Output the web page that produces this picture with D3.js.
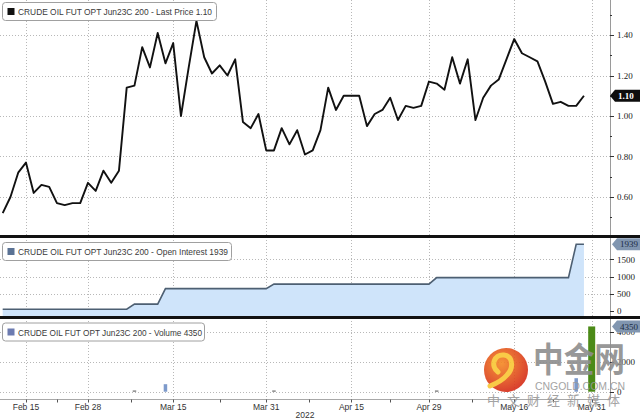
<!DOCTYPE html>
<html>
<head>
<meta charset="utf-8">
<script src="https://cdn.jsdelivr.net/npm/d3@7"></script>
<style>
  body { margin: 0; background: #fff; }
  svg { display: block; }
  text { font-family: "Liberation Sans", Arial, sans-serif; }
</style>
</head>
<body>
<div id="chart"></div>
<script>
// CRUDE OIL FUT OPT Jun23C 200 : last price, open interest, volume

// last price, one value per trading day (index 0 = Feb 10)
var lastPrice = [0.52, 0.60, 0.72, 0.77, 0.62, 0.66, 0.65, 0.57, 0.56, 0.57,
                 0.57, 0.67, 0.63, 0.73, 0.67, 0.73, 1.14, 1.15, 1.34, 1.24,
                 1.41, 1.26, 1.36, 1.00, 1.24, 1.47, 1.29, 1.21, 1.25, 1.20,
                 1.28, 0.97, 0.94, 1.01, 0.83, 0.83, 0.94, 0.86, 0.93, 0.81,
                 0.83, 0.93, 1.14, 1.03, 1.10, 1.10, 1.10, 0.95, 1.01, 1.03,
                 1.09, 0.98, 1.05, 1.04, 1.05, 1.17, 1.16, 1.13, 1.29, 1.16,
                 1.28, 0.98, 1.09, 1.15, 1.18, 1.28, 1.38, 1.31, 1.29, 1.27,
                 1.17, 1.06, 1.07, 1.05, 1.05, 1.10];

// open interest, read at the corners of the step line
var oiIndex = [0, 16, 17, 20, 21, 34, 35, 55, 56, 73, 74, 75];
var oiValue = [50, 50, 200, 200, 650, 650, 780, 780, 970, 970, 1939, 1939];

// volume, only the days that traded
var volIndex = [17, 21, 35, 56, 74, 76];
var volValue = [80, 500, 80, 80, 900, 4350];

var dateTickIndex = [3, 11, 22, 34, 45, 55, 66, 76];
var dateTickLabels = ["Feb 15", "Feb 28", "Mar 15", "Mar 31", "Apr 15", "Apr 29", "May 16", "May 31"];
var yearLabel = "2022";

var priceTicks = [0.6, 0.8, 1.0, 1.2, 1.4];
var priceMinor = [0.5, 0.7, 0.9, 1.1, 1.3, 1.5];
var oiTicks = [0, 500, 1000, 1500];
var volTicks = [0, 2000, 4000];

var seriesName = "CRUDE OIL FUT OPT Jun23C 200";

const width = 640;
const height = 420;
const axisX = 610;
const bottomY = 399.5;

var svg = d3.select("#chart")
            .append("svg")
            .attr("width", width)
            .attr("height", height);

var x = d3.scaleLinear().domain([0, 76]).range([2.7, 591.7]);
var yPrice = d3.scaleLinear().domain([0.6, 1.4]).range([197, 35]);
var yOI = d3.scaleLinear().domain([0, 1939]).range([311, 244.3]);
var yVol = d3.scaleLinear().domain([0, 4000]).range([391.7, 331.7]);

var grid = svg.append("g")
              .attr("stroke", "#b8b8b8")
              .attr("stroke-dasharray", "1,2")
              .attr("stroke-width", 1);

// vertical grid through all three panels
grid.selectAll("line.v")
    .data(dateTickIndex)
    .enter()
    .append("line")
    .attr("class", "v")
    .attr("x1", function(d){ return Math.round(x(d)) + 0.5; })
    .attr("x2", function(d){ return Math.round(x(d)) + 0.5; })
    .attr("y1", 0)
    .attr("y2", bottomY);

function hGrid(ticks, scale) {
    grid.selectAll(null)
        .data(ticks)
        .enter()
        .append("line")
        .attr("x1", 0)
        .attr("x2", axisX)
        .attr("y1", function(d){ return Math.round(scale(d)) + 0.5; })
        .attr("y2", function(d){ return Math.round(scale(d)) + 0.5; });
}
hGrid(priceTicks, yPrice);
hGrid(oiTicks.slice(1), yOI);
hGrid(volTicks, yVol);

// open interest area + line
var oiPts = oiIndex.map(function(d, i){ return [d, oiValue[i]]; });

svg.append("path")
   .datum(oiPts)
   .attr("fill", "#cfe4fa")
   .attr("d", d3.area()
        .x(function(d){ return x(d[0]); })
        .y0(316)
        .y1(function(d){ return yOI(d[1]); }));

svg.append("path")
   .datum(oiPts)
   .attr("fill", "none")
   .attr("stroke", "#4d5f72")
   .attr("stroke-width", 1.6)
   .attr("d", d3.line()
        .x(function(d){ return x(d[0]); })
        .y(function(d){ return yOI(d[1]); }));

// volume bars
svg.selectAll("rect.vol")
   .data(volValue)
   .enter()
   .append("rect")
   .attr("class", "vol")
   .attr("x", function(d, i){
       var w = (i == volValue.length - 1) ? 7 : 3.5;
       return x(volIndex[i]) - w / 2;
   })
   .attr("width", function(d, i){ return (i == volValue.length - 1) ? 7 : 3.5; })
   .attr("y", function(d){ return yVol(d); })
   .attr("height", function(d){ return Math.max(1.2, yVol(0) - yVol(d)); })
   .attr("fill", function(d, i){
       if (i == volValue.length - 1) return "#4b8a17";
       return d > 200 ? "#7d9acb" : "#6b6b6b";
   });

// price line, clipped to the top panel
svg.append("clipPath")
   .attr("id", "clipTop")
   .append("rect")
   .attr("x", 0).attr("y", 0)
   .attr("width", axisX).attr("height", 235);

svg.append("path")
   .datum(lastPrice)
   .attr("clip-path", "url(#clipTop)")
   .attr("fill", "none")
   .attr("stroke", "#111")
   .attr("stroke-width", 1.9)
   .attr("stroke-linejoin", "round")
   .attr("d", d3.line()
        .x(function(d, i){ return x(i); })
        .y(function(d){ return yPrice(d); }));

// right axis
svg.append("line")
   .attr("x1", axisX + 0.5).attr("x2", axisX + 0.5)
   .attr("y1", 0).attr("y2", bottomY)
   .attr("stroke", "#9a9a9a");

function rightTicks(ticks, scale, fmt, len) {
    svg.selectAll(null)
       .data(ticks)
       .enter()
       .append("line")
       .attr("x1", axisX).attr("x2", axisX + len)
       .attr("y1", function(d){ return Math.round(scale(d)) + 0.5; })
       .attr("y2", function(d){ return Math.round(scale(d)) + 0.5; })
       .attr("stroke", "#333");
    if (!fmt) return;
    svg.selectAll(null)
       .data(ticks)
       .enter()
       .append("text")
       .attr("x", 617)
       .attr("y", function(d){ return scale(d); })
       .attr("dy", "0.35em")
       .style("font-family", "'Liberation Serif', serif")
       .style("font-size", "9px")
       .attr("fill", "#222")
       .text(fmt);
}
rightTicks(priceTicks, yPrice, function(d){ return d.toFixed(2); }, 4);
rightTicks(priceMinor, yPrice, null, 2);
rightTicks(oiTicks, yOI, function(d){ return d; }, 4);
rightTicks(volTicks, yVol, function(d){ return d; }, 4);

// bottom date axis
svg.append("line")
   .attr("x1", 0).attr("x2", axisX)
   .attr("y1", bottomY).attr("y2", bottomY)
   .attr("stroke", "#a8a8a8");

var midTicks = dateTickIndex.slice(1).map(function(d, i){ return (d + dateTickIndex[i]) / 2; });

svg.selectAll(null)
   .data(dateTickIndex.concat(midTicks))
   .enter()
   .append("line")
   .attr("x1", function(d){ return Math.round(x(d)) + 0.5; })
   .attr("x2", function(d){ return Math.round(x(d)) + 0.5; })
   .attr("y1", bottomY).attr("y2", bottomY + 3)
   .attr("stroke", "#555");

svg.selectAll("text.date")
   .data(dateTickLabels)
   .enter()
   .append("text")
   .attr("class", "date")
   .attr("x", function(d, i){ return x(dateTickIndex[i]); })
   .attr("y", 410)
   .attr("text-anchor", "middle")
   .style("font-size", "8.5px")
   .attr("fill", "#333")
   .text(function(d){ return d; });

svg.append("text")
   .attr("x", 305).attr("y", 418)
   .attr("text-anchor", "middle")
   .style("font-size", "8.5px")
   .attr("fill", "#333")
   .text(yearLabel);

// thick panel separators
[236.5, 317.5].forEach(function(yy){
    svg.append("line")
       .attr("x1", 0).attr("x2", width)
       .attr("y1", yy).attr("y2", yy)
       .attr("stroke", "#111")
       .attr("stroke-width", 3);
});

// legends
function legend(y, w, color, label, len) {
    var g = svg.append("g").attr("transform", "translate(2.5," + y + ")");
    g.append("rect")
     .attr("width", w).attr("height", 18)
     .attr("rx", 3)
     .attr("fill", "#fff")
     .attr("stroke", "#a0a0a0");
    g.append("rect")
     .attr("x", 5).attr("y", 5.5)
     .attr("width", 7).attr("height", 7)
     .attr("fill", color);
    g.append("text")
     .attr("x", 15.5).attr("y", 12.8)
     .attr("textLength", len)
     .attr("lengthAdjust", "spacingAndGlyphs")
     .style("font-size", "9.5px")
     .attr("fill", "#3a3a3a")
     .text(label);
}
legend(2.5, 214, "#111", seriesName + " - Last Price " + lastPrice[lastPrice.length - 1].toFixed(2), 194);
legend(242.5, 229, "#5a7294", seriesName + " - Open Interest " + oiValue[oiValue.length - 1], 210);
legend(323, 202, "#6c7bb0", seriesName + " - Volume " + volValue[volValue.length - 1], 184);

// value tags on the right axis
function tag(y, x0, txt, fill, color, bold) {
    svg.append("path")
       .attr("d", "M" + x0 + "," + y + " L" + (x0 + 5) + "," + (y - 6) + " L640," + (y - 6) +
                  " L640," + (y + 6) + " L" + (x0 + 5) + "," + (y + 6) + " Z")
       .attr("fill", fill);
    svg.append("text")
       .attr("x", x0 + 8).attr("y", y)
       .attr("dy", "0.35em")
       .style("font-family", "'Liberation Serif', serif")
       .style("font-size", "9px")
       .style("font-weight", bold ? "bold" : "normal")
       .attr("fill", color)
       .text(txt);
}
tag(yPrice(lastPrice[lastPrice.length - 1]), 610, lastPrice[lastPrice.length - 1].toFixed(2), "#0d0d0d", "#fff", true);
tag(yOI(oiValue[oiValue.length - 1]), 612, oiValue[oiValue.length - 1], "#8196b0", "#1b2b44", false);
tag(yVol(volValue[volValue.length - 1]), 612, volValue[volValue.length - 1], "#8196b0", "#1b2b44", false);

// site watermark
var wm = svg.append("g").attr("opacity", 0.9);
var grad = svg.append("defs").append("radialGradient")
              .attr("id", "logoGrad")
              .attr("cx", "40%").attr("cy", "35%").attr("r", "65%");
grad.append("stop").attr("offset", "0%").attr("stop-color", "#f58a24");
grad.append("stop").attr("offset", "100%").attr("stop-color", "#d62d18");

wm.append("circle")
  .attr("cx", 506).attr("cy", 370).attr("r", 22)
  .attr("fill", "url(#logoGrad)");
wm.append("path")
  .attr("d", "M498,372 C490,366 494,354 504,355 C513,356 514,368 507,375 C502,381 495,384 490,386")
  .attr("fill", "none")
  .attr("stroke", "#f9c634")
  .attr("stroke-width", 5)
  .attr("stroke-linecap", "round");

wm.append("text")
  .attr("x", 533).attr("y", 372)
  .attr("textLength", 92)
  .attr("lengthAdjust", "spacingAndGlyphs")
  .style("font-family", "'Noto Sans CJK SC', sans-serif")
  .style("font-size", "34px")
  .style("font-weight", "bold")
  .attr("fill", "#8d8d8d")
  .text("中金网");
wm.append("text")
  .attr("x", 535).attr("y", 390)
  .attr("textLength", 90)
  .attr("lengthAdjust", "spacingAndGlyphs")
  .style("font-size", "10.5px")
  .attr("fill", "#9a9a9a")
  .text("CNGOLD.COM.CN");
wm.append("text")
  .attr("x", 487).attr("y", 405)
  .attr("textLength", 133)
  .attr("lengthAdjust", "spacing")
  .style("font-family", "'Noto Sans CJK SC', sans-serif")
  .style("font-size", "13px")
  .attr("fill", "#9a9a9a")
  .text("中文财经新媒体");
</script>
</body>
</html>
